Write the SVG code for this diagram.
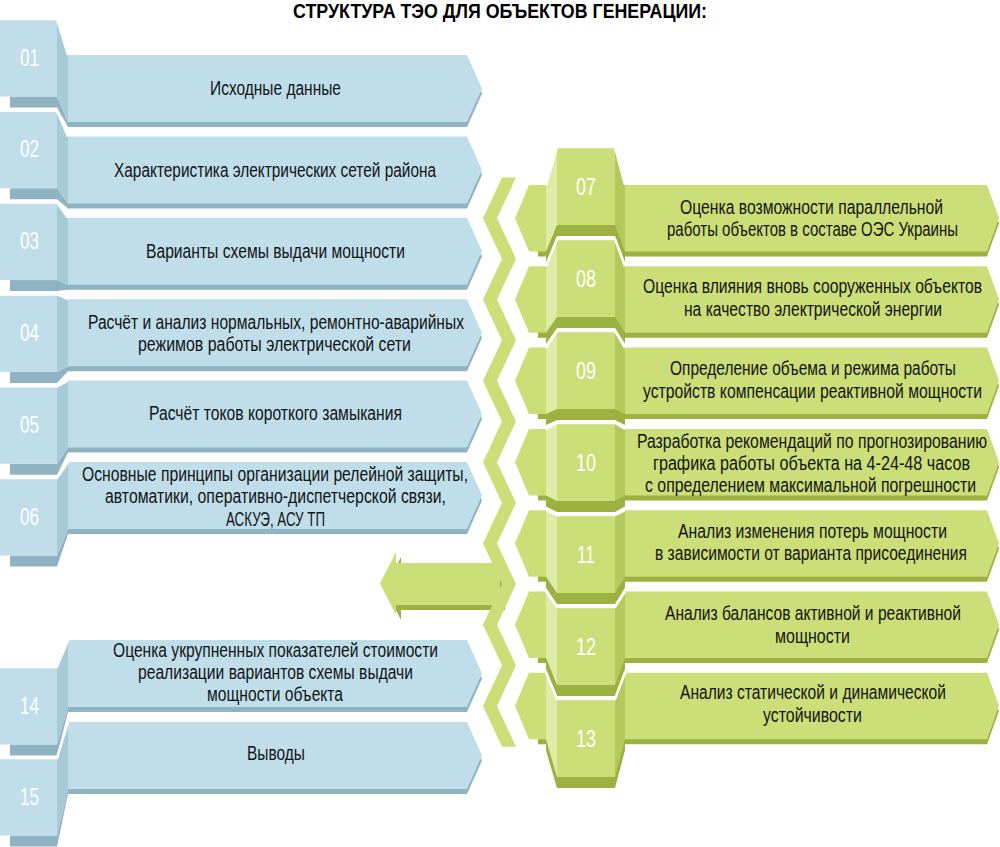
<svg xmlns="http://www.w3.org/2000/svg" width="1000" height="847" viewBox="0 0 1000 847">
<style>
.bf{fill:#c0deea}.bs{fill:#a7cad7}.bsh{fill:#8fb3c2}
.gf{fill:#cbde77}.gl{fill:#e0eba7}.gr{fill:#b4c95b}.gsh{fill:#9cb13f}
.gap{fill:none;stroke:#fff;stroke-width:2.5}
.t{font-family:"Liberation Sans",Arial,sans-serif;font-size:20px;fill:#141414;text-anchor:middle}
.n{font-family:"Liberation Sans",Arial,sans-serif;font-size:24px;fill:#ffffff;text-anchor:middle}
.h{font-family:"Liberation Sans",Arial,sans-serif;font-size:20px;font-weight:bold;fill:#000;text-anchor:middle}
</style>
<rect width="1000" height="847" fill="#fff"/>
<g transform="translate(500,0) scale(0.85,1)">
<text class="h" x="0" y="18" textLength="487" lengthAdjust="spacingAndGlyphs">СТРУКТУРА ТЭО ДЛЯ ОБЪЕКТОВ ГЕНЕРАЦИИ:</text>
</g>

<g id="connectors">
<polygon class="gsh" transform="translate(5,5)" points="380,583.5 396,552 396,563 500,563 500,605 396,605 396,615"/>
<polygon class="gf" points="380,583.5 396,552 396,563 500,563 500,605 396,605 396,615"/>
<polygon class="gf" points="502,177.6 483,218.25 502,258.9 483,299.55 502,340.2 483,380.85 502,421.5 483,462.15 502,502.8 483,543.45 502,584.1 483,624.75 502,665.4 483,706.05 502,746.7 516,746.7 497,706.05 516,665.4 497,624.75 516,584.1 497,543.45 516,502.8 497,462.15 516,421.5 497,380.85 516,340.2 497,299.55 516,258.9 497,218.25 516,177.6"/>
</g>

<g id="item01">
<polygon class="bsh" points="68,60 467,60 482,93.5 467,127 68,127"/>
<polygon class="bf" points="68,55 467,55 482,88.5 467,122 68,122"/>
<polygon class="bsh" points="10,96.5 57,96.5 68,122 68,127 57,107.5 10,107.5"/>
<rect class="bf" x="0" y="19" width="57" height="77.5"/>
<polygon class="bs" points="57,19 68,55 68,122 57,96.5"/>
<polyline class="gap" points="0,19 57,19 68,55"/>
<text class="n" x="29.5" y="65.5" textLength="19" lengthAdjust="spacingAndGlyphs">01</text>
<g transform="translate(275.5,0) scale(0.8,1)">
<text class="t" x="0" y="95.5" textLength="163.75" lengthAdjust="spacingAndGlyphs">Исходные данные</text>
</g>
</g>

<g id="item02">
<polygon class="bsh" points="68,141.4 467,141.4 482,174.9 467,208.4 68,208.4"/>
<polygon class="bf" points="68,136.4 467,136.4 482,169.9 467,203.4 68,203.4"/>
<polygon class="bsh" points="10,188.3 57,188.3 68,203.4 68,208.4 57,199.3 10,199.3"/>
<rect class="bf" x="0" y="110.8" width="57" height="77.5"/>
<polygon class="bs" points="57,110.8 68,136.4 68,203.4 57,188.3"/>
<polyline class="gap" points="0,110.8 57,110.8 68,136.4"/>
<text class="n" x="29.5" y="157.3" textLength="19" lengthAdjust="spacingAndGlyphs">02</text>
<g transform="translate(275.5,0) scale(0.8,1)">
<text class="t" x="-0.6" y="176.9" textLength="402.5" lengthAdjust="spacingAndGlyphs">Характеристика электрических сетей района</text>
</g>
</g>

<g id="item03">
<polygon class="bsh" points="68,222.8 467,222.8 482,256.3 467,289.8 68,289.8"/>
<polygon class="bf" points="68,217.8 467,217.8 482,251.3 467,284.8 68,284.8"/>
<polygon class="bsh" points="10,280.1 57,280.1 68,284.8 68,289.8 57,291.1 10,291.1"/>
<rect class="bf" x="0" y="202.6" width="57" height="77.5"/>
<polygon class="bs" points="57,202.6 68,217.8 68,284.8 57,280.1"/>
<polyline class="gap" points="0,202.6 57,202.6 68,217.8"/>
<text class="n" x="29.5" y="249.1" textLength="19" lengthAdjust="spacingAndGlyphs">03</text>
<g transform="translate(275.5,0) scale(0.8,1)">
<text class="t" x="0" y="258.3" textLength="323.75" lengthAdjust="spacingAndGlyphs">Варианты схемы выдачи мощности</text>
</g>
</g>

<g id="item04">
<polygon class="bsh" points="68,304.2 467,304.2 482,337.7 467,371.2 68,371.2"/>
<polygon class="bf" points="68,299.2 467,299.2 482,332.7 467,366.2 68,366.2"/>
<polygon class="bsh" points="10,371.9 57,371.9 68,366.2 68,371.2 57,382.9 10,382.9"/>
<rect class="bf" x="0" y="294.4" width="57" height="77.5"/>
<polygon class="bs" points="57,294.4 68,299.2 68,366.2 57,371.9"/>
<polyline class="gap" points="0,294.4 57,294.4 68,299.2"/>
<text class="n" x="29.5" y="340.9" textLength="19" lengthAdjust="spacingAndGlyphs">04</text>
<g transform="translate(275.5,0) scale(0.8,1)">
<text class="t" x="0.6" y="328.7" textLength="470" lengthAdjust="spacingAndGlyphs">Расчёт и анализ нормальных, ремонтно-аварийных</text>
<text class="t" x="-1.25" y="350.7" textLength="341.25" lengthAdjust="spacingAndGlyphs">режимов работы электрической сети</text>
</g>
</g>

<g id="item05">
<polygon class="bsh" points="68,385.6 467,385.6 482,419.1 467,452.6 68,452.6"/>
<polygon class="bf" points="68,380.6 467,380.6 482,414.1 467,447.6 68,447.6"/>
<polygon class="bsh" points="10,463.7 57,463.7 68,447.6 68,452.6 57,474.7 10,474.7"/>
<rect class="bf" x="0" y="386.2" width="57" height="77.5"/>
<polygon class="bs" points="57,386.2 68,380.6 68,447.6 57,463.7"/>
<polyline class="gap" points="0,386.2 57,386.2 68,380.6"/>
<text class="n" x="29.5" y="432.7" textLength="19" lengthAdjust="spacingAndGlyphs">05</text>
<g transform="translate(275.5,0) scale(0.8,1)">
<text class="t" x="0" y="420.5" textLength="316.25" lengthAdjust="spacingAndGlyphs">Расчёт токов короткого замыкания</text>
</g>
</g>

<g id="item06">
<polygon class="bsh" points="68,467 467,467 482,500.5 467,534 68,534"/>
<polygon class="bf" points="68,462 467,462 482,495.5 467,529 68,529"/>
<polygon class="bsh" points="10,555.5 57,555.5 68,529 68,534 57,566.5 10,566.5"/>
<rect class="bf" x="0" y="478" width="57" height="77.5"/>
<polygon class="bs" points="57,478 68,462 68,529 57,555.5"/>
<polyline class="gap" points="0,478 57,478 68,462"/>
<text class="n" x="29.5" y="524.5" textLength="19" lengthAdjust="spacingAndGlyphs">06</text>
<g transform="translate(275.5,0) scale(0.8,1)">
<text class="t" x="-0.6" y="481" textLength="482.5" lengthAdjust="spacingAndGlyphs">Основные принципы организации релейной защиты,</text>
<text class="t" x="0" y="503" textLength="426.25" lengthAdjust="spacingAndGlyphs">автоматики, оперативно-диспетчерской связи,</text>
<text class="t" x="0" y="526" textLength="123.75" lengthAdjust="spacingAndGlyphs">АСКУЭ, АСУ ТП</text>
</g>
</g>

<g id="item07">
<rect class="gsh" x="538" y="190" width="8" height="66.5"/>
<polygon class="gsh" points="625,190 987,190 999,223.25 987,256.5 625,256.5"/>
<polygon class="gf" points="515,218.25 529,185 546,185 546,251.5 529,251.5"/>
<polygon class="gf" points="625,185 987,185 999,218.25 987,251.5 625,251.5"/>
<polygon class="gsh" transform="translate(0,11)" points="557,147 615,147 625,185 625,251.5 615,225 557,225 546,251.5 546,185"/>
<rect class="gf" x="557" y="147" width="58" height="78"/>
<polygon class="gl" points="557,147 546,185 546,251.5 557,225"/>
<polygon class="gr" points="615,147 625,185 625,251.5 615,225"/>
<polyline class="gap" points="546,185 557,147 615,147 625,185"/>
<text class="n" x="586" y="195" textLength="20" lengthAdjust="spacingAndGlyphs">07</text>
<g transform="translate(812.5,0) scale(0.8,1)">
<text class="t" x="-1.25" y="214" textLength="328.75" lengthAdjust="spacingAndGlyphs">Оценка возможности параллельной</text>
<text class="t" x="0" y="236" textLength="363.75" lengthAdjust="spacingAndGlyphs">работы объектов в составе ОЭС Украины</text>
</g>
</g>

<g id="item08">
<rect class="gsh" x="538" y="271.3" width="8" height="66.5"/>
<polygon class="gsh" points="625,271.3 987,271.3 999,304.55 987,337.8 625,337.8"/>
<polygon class="gf" points="515,299.55 529,266.3 546,266.3 546,332.8 529,332.8"/>
<polygon class="gf" points="625,266.3 987,266.3 999,299.55 987,332.8 625,332.8"/>
<polygon class="gsh" transform="translate(0,11)" points="557,239 615,239 625,266.3 625,332.8 615,317 557,317 546,332.8 546,266.3"/>
<rect class="gf" x="557" y="239" width="58" height="78"/>
<polygon class="gl" points="557,239 546,266.3 546,332.8 557,317"/>
<polygon class="gr" points="615,239 625,266.3 625,332.8 615,317"/>
<polyline class="gap" points="546,266.3 557,239 615,239 625,266.3"/>
<text class="n" x="586" y="287" textLength="20" lengthAdjust="spacingAndGlyphs">08</text>
<g transform="translate(812.5,0) scale(0.8,1)">
<text class="t" x="0" y="293" textLength="423.75" lengthAdjust="spacingAndGlyphs">Оценка влияния вновь сооруженных объектов</text>
<text class="t" x="0.6" y="316" textLength="322.5" lengthAdjust="spacingAndGlyphs">на качество электрической энергии</text>
</g>
</g>

<g id="item09">
<rect class="gsh" x="538" y="352.6" width="8" height="66.5"/>
<polygon class="gsh" points="625,352.6 987,352.6 999,385.85 987,419.1 625,419.1"/>
<polygon class="gf" points="515,380.85 529,347.6 546,347.6 546,414.1 529,414.1"/>
<polygon class="gf" points="625,347.6 987,347.6 999,380.85 987,414.1 625,414.1"/>
<polygon class="gsh" transform="translate(0,11)" points="557,331 615,331 625,347.6 625,414.1 615,409 557,409 546,414.1 546,347.6"/>
<rect class="gf" x="557" y="331" width="58" height="78"/>
<polygon class="gl" points="557,331 546,347.6 546,414.1 557,409"/>
<polygon class="gr" points="615,331 625,347.6 625,414.1 615,409"/>
<polyline class="gap" points="546,347.6 557,331 615,331 625,347.6"/>
<text class="n" x="586" y="379" textLength="20" lengthAdjust="spacingAndGlyphs">09</text>
<g transform="translate(812.5,0) scale(0.8,1)">
<text class="t" x="0.6" y="375" textLength="357.5" lengthAdjust="spacingAndGlyphs">Определение объема и режима работы</text>
<text class="t" x="0" y="398" textLength="423.75" lengthAdjust="spacingAndGlyphs">устройств компенсации реактивной мощности</text>
</g>
</g>

<g id="item10">
<rect class="gsh" x="538" y="433.9" width="8" height="66.5"/>
<polygon class="gsh" points="625,433.9 987,433.9 999,467.15 987,500.4 625,500.4"/>
<polygon class="gf" points="515,462.15 529,428.9 546,428.9 546,495.4 529,495.4"/>
<polygon class="gf" points="625,428.9 987,428.9 999,462.15 987,495.4 625,495.4"/>
<polygon class="gsh" transform="translate(0,11)" points="557,423 615,423 625,428.9 625,495.4 615,501 557,501 546,495.4 546,428.9"/>
<rect class="gf" x="557" y="423" width="58" height="78"/>
<polygon class="gl" points="557,423 546,428.9 546,495.4 557,501"/>
<polygon class="gr" points="615,423 625,428.9 625,495.4 615,501"/>
<polyline class="gap" points="546,428.9 557,423 615,423 625,428.9"/>
<text class="n" x="586" y="471" textLength="20" lengthAdjust="spacingAndGlyphs">10</text>
<g transform="translate(812.5,0) scale(0.8,1)">
<text class="t" x="-0.6" y="448" textLength="437.5" lengthAdjust="spacingAndGlyphs">Разработка рекомендаций по прогнозированию</text>
<text class="t" x="-1.25" y="470" textLength="396.25" lengthAdjust="spacingAndGlyphs">графика работы объекта на 4-24-48 часов</text>
<text class="t" x="-2.5" y="492" textLength="413.75" lengthAdjust="spacingAndGlyphs">с определением максимальной погрешности</text>
</g>
</g>

<g id="item11">
<rect class="gsh" x="538" y="515.2" width="8" height="66.5"/>
<polygon class="gsh" points="625,515.2 987,515.2 999,548.45 987,581.7 625,581.7"/>
<polygon class="gf" points="515,543.45 529,510.2 546,510.2 546,576.7 529,576.7"/>
<polygon class="gf" points="625,510.2 987,510.2 999,543.45 987,576.7 625,576.7"/>
<polygon class="gsh" transform="translate(0,11)" points="557,515 615,515 625,510.2 625,576.7 615,593 557,593 546,576.7 546,510.2"/>
<rect class="gf" x="557" y="515" width="58" height="78"/>
<polygon class="gl" points="557,515 546,510.2 546,576.7 557,593"/>
<polygon class="gr" points="615,515 625,510.2 625,576.7 615,593"/>
<polyline class="gap" points="546,510.2 557,515 615,515 625,510.2"/>
<text class="n" x="586" y="563" textLength="18" lengthAdjust="spacingAndGlyphs">11</text>
<g transform="translate(812.5,0) scale(0.8,1)">
<text class="t" x="0" y="538" textLength="336.25" lengthAdjust="spacingAndGlyphs">Анализ изменения потерь мощности</text>
<text class="t" x="-1.9" y="560" textLength="390" lengthAdjust="spacingAndGlyphs">в зависимости от варианта присоединения</text>
</g>
</g>

<g id="item12">
<rect class="gsh" x="538" y="596.5" width="8" height="66.5"/>
<polygon class="gsh" points="625,596.5 987,596.5 999,629.75 987,663 625,663"/>
<polygon class="gf" points="515,624.75 529,591.5 546,591.5 546,658 529,658"/>
<polygon class="gf" points="625,591.5 987,591.5 999,624.75 987,658 625,658"/>
<polygon class="gsh" transform="translate(0,11)" points="557,607 615,607 625,591.5 625,658 615,685 557,685 546,658 546,591.5"/>
<rect class="gf" x="557" y="607" width="58" height="78"/>
<polygon class="gl" points="557,607 546,591.5 546,658 557,685"/>
<polygon class="gr" points="615,607 625,591.5 625,658 615,685"/>
<polyline class="gap" points="546,591.5 557,607 615,607 625,591.5"/>
<text class="n" x="586" y="655" textLength="20" lengthAdjust="spacingAndGlyphs">12</text>
<g transform="translate(812.5,0) scale(0.8,1)">
<text class="t" x="0.6" y="620" textLength="370" lengthAdjust="spacingAndGlyphs">Анализ балансов активной и реактивной</text>
<text class="t" x="0" y="643" textLength="93.75" lengthAdjust="spacingAndGlyphs">мощности</text>
</g>
</g>

<g id="item13">
<rect class="gsh" x="538" y="677.8" width="8" height="66.5"/>
<polygon class="gsh" points="625,677.8 987,677.8 999,711.05 987,744.3 625,744.3"/>
<polygon class="gf" points="515,706.05 529,672.8 546,672.8 546,739.3 529,739.3"/>
<polygon class="gf" points="625,672.8 987,672.8 999,706.05 987,739.3 625,739.3"/>
<polygon class="gsh" transform="translate(0,11)" points="557,699 615,699 625,672.8 625,739.3 615,777 557,777 546,739.3 546,672.8"/>
<rect class="gf" x="557" y="699" width="58" height="78"/>
<polygon class="gl" points="557,699 546,672.8 546,739.3 557,777"/>
<polygon class="gr" points="615,699 625,672.8 625,739.3 615,777"/>
<polyline class="gap" points="546,672.8 557,699 615,699 625,672.8"/>
<text class="n" x="586" y="747" textLength="20" lengthAdjust="spacingAndGlyphs">13</text>
<g transform="translate(812.5,0) scale(0.8,1)">
<text class="t" x="0.6" y="699" textLength="332.5" lengthAdjust="spacingAndGlyphs">Анализ статической и динамической</text>
<text class="t" x="0" y="722" textLength="123.75" lengthAdjust="spacingAndGlyphs">устойчивости</text>
</g>
</g>

<g id="item14">
<polygon class="bsh" points="68,645 467,645 482,678.5 467,712 68,712"/>
<polygon class="bf" points="68,640 467,640 482,673.5 467,707 68,707"/>
<polygon class="bsh" points="10,744.5 57,744.5 68,707 68,712 57,755.5 10,755.5"/>
<rect class="bf" x="0" y="667" width="57" height="77.5"/>
<polygon class="bs" points="57,667 68,640 68,707 57,744.5"/>
<polyline class="gap" points="0,667 57,667 68,640"/>
<text class="n" x="29.5" y="713.5" textLength="19" lengthAdjust="spacingAndGlyphs">14</text>
<g transform="translate(275.5,0) scale(0.8,1)">
<text class="t" x="0" y="657" textLength="406.25" lengthAdjust="spacingAndGlyphs">Оценка укрупненных показателей стоимости</text>
<text class="t" x="0" y="679" textLength="343.75" lengthAdjust="spacingAndGlyphs">реализации вариантов схемы выдачи</text>
<text class="t" x="-0.6" y="701" textLength="170" lengthAdjust="spacingAndGlyphs">мощности объекта</text>
</g>
</g>

<g id="item15">
<polygon class="bsh" points="68,727 467,727 482,760.5 467,794 68,794"/>
<polygon class="bf" points="68,722 467,722 482,755.5 467,789 68,789"/>
<polygon class="bsh" points="10,835.5 57,835.5 68,789 68,794 57,846.5 10,846.5"/>
<rect class="bf" x="0" y="758" width="57" height="77.5"/>
<polygon class="bs" points="57,758 68,722 68,789 57,835.5"/>
<polyline class="gap" points="0,758 57,758 68,722"/>
<text class="n" x="29.5" y="804.5" textLength="19" lengthAdjust="spacingAndGlyphs">15</text>
<g transform="translate(275.5,0) scale(0.8,1)">
<text class="t" x="0.6" y="760.5" textLength="72.5" lengthAdjust="spacingAndGlyphs">Выводы</text>
</g>
</g>
</svg>
